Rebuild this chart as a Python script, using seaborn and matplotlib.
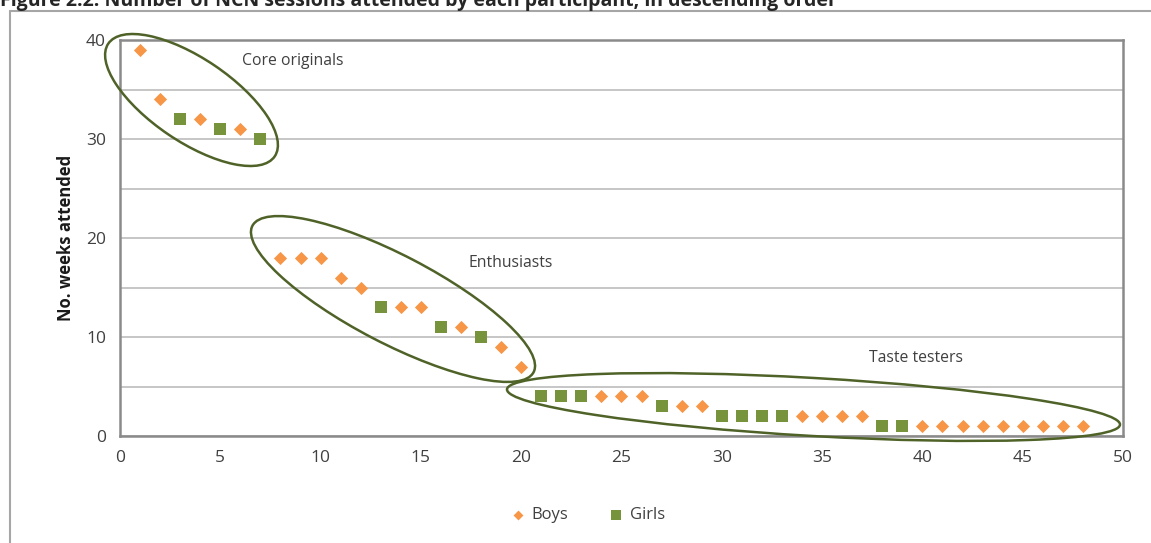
import numpy as np
import pandas as pd
import matplotlib
matplotlib.use("Agg")
import matplotlib.pyplot as plt
from matplotlib.patches import Ellipse
from matplotlib.lines import Line2D
from matplotlib.transforms import IdentityTransform
import seaborn as sns

# participants ranked by attendance
boys_rank = [1, 2, 4, 6, 8, 9, 10, 11, 12, 14, 15, 17, 19, 20, 24, 25, 26, 28, 29,
             34, 35, 36, 37, 40, 41, 42, 43, 44, 45, 46, 47, 48]
boys_weeks = [39, 34, 32, 31, 18, 18, 18, 16, 15, 13, 13, 11, 9, 7, 4, 4, 4, 3, 3,
              2, 2, 2, 2, 1, 1, 1, 1, 1, 1, 1, 1, 1]
girls_rank = [3, 5, 7, 13, 16, 18, 21, 22, 23, 27, 30, 31, 32, 33, 38, 39]
girls_weeks = [32, 31, 30, 13, 11, 10, 4, 4, 4, 3, 2, 2, 2, 2, 1, 1]

groups = ["Core originals", "Enthusiasts", "Taste testers"]
group_label_pos = [(8.6, 37.9), (19.5, 17.5), (39.7, 7.9)]

df = pd.concat([
    pd.DataFrame({"rank": boys_rank, "weeks": boys_weeks, "sex": "Boys"}),
    pd.DataFrame({"rank": girls_rank, "weeks": girls_weeks, "sex": "Girls"}),
])

sns.set_style("white")
plt.rcParams["font.family"] = ["Open Sans", "DejaVu Sans"]

W, H = 1151, 543
fig = plt.figure(figsize=(W / 100, H / 100), dpi=100)
ax = fig.add_axes([120 / W, 1 - 436 / H, (1123 - 120) / W, (436 - 40) / H])

pal = {"Boys": "#F79646", "Girls": "#77933C"}
mk = {"Boys": "D", "Girls": "s"}
sizes = {"Boys": 45, "Girls": 75}
for sex in ["Boys", "Girls"]:
    sub = df[df["sex"] == sex]
    sns.scatterplot(data=sub, x="rank", y="weeks", color=pal[sex], marker=mk[sex],
                    s=sizes[sex], linewidth=0, ax=ax, label=sex, zorder=3)

ax.set_xlim(0, 50)
ax.set_ylim(0, 40)
ax.set_xticks(np.arange(0, 51, 5))
ax.set_yticks(np.arange(0, 41, 10))
ax.set_yticks(np.arange(5, 40, 10), minor=True)
ax.grid(True, which="both", axis="y", color="#c6c6c6", linewidth=1.4)
ax.tick_params(axis="both", which="both", length=0, labelsize=12.5,
               labelcolor="#404040", pad=10)
for sp in ax.spines.values():
    sp.set_color("#8a8a8a")
    sp.set_linewidth(1.8)
ax.set_xlabel("")
ax.set_ylabel("No. weeks attended", fontsize=12, fontweight="bold",
              color="#1a1a1a", labelpad=8)

for name, (gx, gy) in zip(groups, group_label_pos):
    ax.text(gx, gy, name, fontsize=11.3, color="#404040", ha="center", va="center")

# group ellipses, drawn in pixel space (image y measured from top)
ellipses = [((191.5, 100), 201, 83, -34.1),
            ((393, 299), 317, 88, -27.5),
            ((813.5, 407), 614, 58, -3.3)]
for (cx, cy), w, h, ang in ellipses:
    fig.add_artist(Ellipse((cx, H - cy), w, h, angle=ang, fill=False,
                           edgecolor="#4F6228", linewidth=1.8,
                           transform=IdentityTransform(), zorder=5))

leg = fig.legend(*ax.get_legend_handles_labels(), loc="center",
                 bbox_to_anchor=(589 / W, 1 - 515 / H), ncol=2,
                 frameon=False, fontsize=12, handlelength=0.6, handletextpad=0.5,
                 columnspacing=2.6, markerscale=0.75)
ax.get_legend().remove()
for t in leg.get_texts():
    t.set_color("#404040")

# chart area frame (runs off the right and bottom edges)
fc = "#a6a6a6"
fig.add_artist(Line2D([10 / W, 1.0], [1 - 11 / H, 1 - 11 / H], color=fc, linewidth=1.5,
                      transform=fig.transFigure))
fig.add_artist(Line2D([10 / W, 10 / W], [0, 1 - 11 / H], color=fc, linewidth=1.5,
                      transform=fig.transFigure))

fig.text(0.0, 1 - 6 / H, "Figure 2.2: Number of NCN sessions attended by each participant, in descending order",
         fontsize=14, fontweight="bold", color="#262626", ha="left", va="baseline")

fig.savefig("out.png", dpi=100)
